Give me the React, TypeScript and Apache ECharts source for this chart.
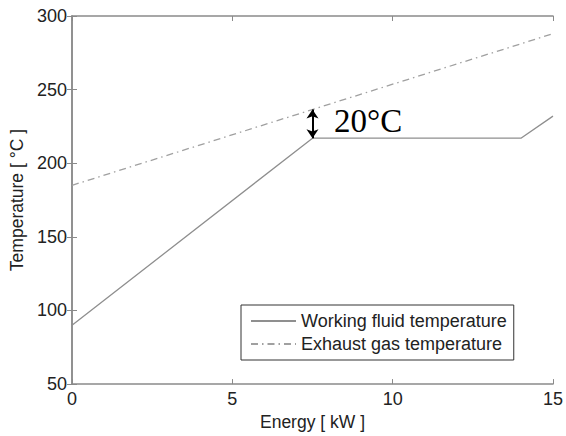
import React, { useEffect, useRef } from "react";
import * as echarts from "echarts";

const workingFluid: [number, number][] = [
  [0, 90],
  [7.5, 217],
  [14, 217],
  [15, 232],
];
const exhaustGas: [number, number][] = [
  [0, 185],
  [15, 288],
];
const pinchArrow: [number, number][] = [
  [7.5, 217],
  [7.5, 236.5],
];
const seriesNames = ["Working fluid temperature", "Exhaust gas temperature"];
const xName = "Energy [ kW ]";
const yName = "Temperature [ °C ]";
const annotation = "20°C";

const FONT = "Liberation Sans, Arial, sans-serif";
const AXIS_COLOR = "#8a8a8a";
const TEXT_COLOR = "#222";

export default function App() {
  const ref = useRef<HTMLDivElement>(null);
  useEffect(() => {
    if (!ref.current) return;
    const chart = echarts.init(ref.current, undefined, { renderer: "svg" });
    const axisCommon = {
      axisLine: { show: true, lineStyle: { color: AXIS_COLOR, width: 1.5 } },
      axisTick: { show: true, inside: true, length: 5, lineStyle: { color: AXIS_COLOR } },
      splitLine: { show: false },
    };
    chart.setOption({
      animation: false,
      backgroundColor: "#fff",
      textStyle: { fontFamily: FONT },
      grid: { left: 72, top: 16, right: 10, bottom: 49, containLabel: false },
      xAxis: [
        {
          type: "value",
          min: 0,
          max: 15,
          interval: 5,
          name: xName,
          nameLocation: "middle",
          nameGap: 27,
          nameTextStyle: { fontSize: 17.5, color: TEXT_COLOR, fontFamily: FONT },
          axisLabel: { fontSize: 18, color: TEXT_COLOR, margin: 6, fontFamily: FONT },
          ...axisCommon,
        },
        {
          type: "value",
          position: "top",
          min: 0,
          max: 15,
          interval: 5,
          axisLabel: { show: false },
          ...axisCommon,
        },
      ],
      yAxis: [
        {
          type: "value",
          min: 50,
          max: 300,
          interval: 50,
          name: yName,
          nameLocation: "middle",
          nameGap: 46,
          nameTextStyle: { fontSize: 17.5, color: TEXT_COLOR, fontFamily: FONT },
          axisLabel: { fontSize: 18, color: TEXT_COLOR, margin: 5, fontFamily: FONT },
          ...axisCommon,
        },
        {
          type: "value",
          position: "right",
          min: 50,
          max: 300,
          interval: 50,
          axisLabel: { show: false },
          ...axisCommon,
        },
      ],
      legend: {
        orient: "vertical",
        left: 241,
        top: 305,
        padding: [7, 7, 7, 9],
        itemGap: 5,
        itemWidth: 45,
        itemHeight: 14,
        borderColor: "#333",
        borderWidth: 1,
        borderRadius: 0,
        backgroundColor: "#fff",
        itemStyle: { opacity: 0 },
        textStyle: { fontSize: 18, color: TEXT_COLOR, fontFamily: FONT },
        data: seriesNames,
      },
      series: [
        {
          name: seriesNames[0],
          type: "line",
          data: workingFluid,
          symbol: "none",
          lineStyle: { color: "#8f8f8f", width: 1.3 },
          itemStyle: { color: "#8f8f8f" },
          markLine: {
            silent: true,
            symbol: ["arrow", "arrow"],
            symbolSize: [9, 9],
            label: { show: false },
            lineStyle: { color: "#000", width: 2, type: "solid" },
            data: [[{ coord: pinchArrow[0] }, { coord: pinchArrow[1] }]],
          },
        },
        {
          name: seriesNames[1],
          type: "line",
          data: exhaustGas,
          symbol: "none",
          lineStyle: { color: "#a0a0a0", width: 1.3, type: [7, 4, 1.5, 4] },
          itemStyle: { color: "#a0a0a0" },
        },
      ],
      graphic: [
        {
          type: "text",
          left: 334,
          top: 104,
          style: {
            text: annotation,
            font: "33px 'Liberation Serif', 'Times New Roman', serif",
            fill: "#000",
          },
        },
      ],
    });
    return () => chart.dispose();
  }, []);
  return (
    <div
      ref={ref}
      style={{ position: "fixed", left: 0, top: 0, width: 566, height: 436 }}
    />
  );
}
